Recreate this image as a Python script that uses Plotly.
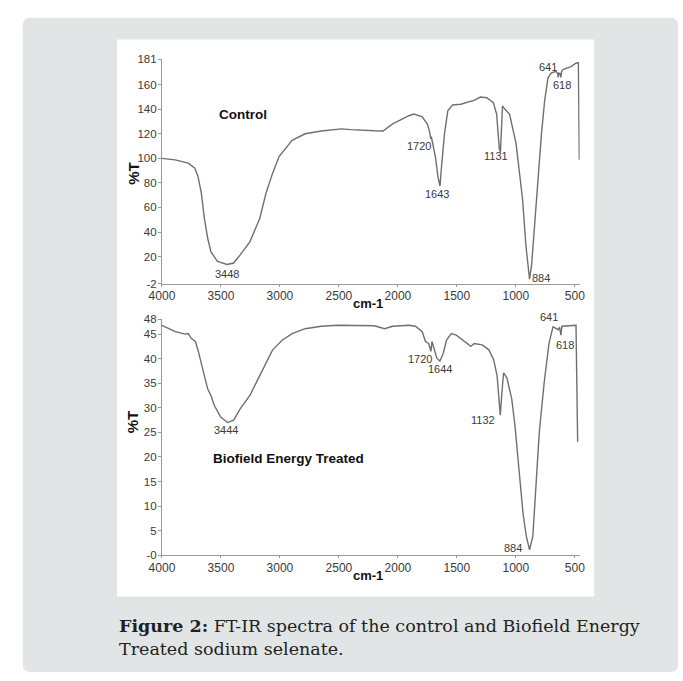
import plotly.graph_objects as go

W, H = 683, 681

# ---- data ----
control_wn = [4000, 3887, 3777, 3722, 3695, 3667, 3640, 3612, 3585, 3530, 3448, 3392, 3337,
              3255, 3172, 3117, 3062, 3007, 2897, 2786, 2649, 2479, 2400, 2300, 2200, 2126,
              2044, 1906, 1866, 1796, 1750, 1730, 1722, 1715, 1700, 1680, 1660, 1643, 1630,
              1605, 1577, 1536, 1467, 1412, 1350, 1301, 1246, 1191, 1163, 1150, 1140, 1131,
              1124, 1113, 1100, 1053, 998, 943, 915, 895, 884, 866, 838, 811, 783, 756, 728,
              701, 673, 660, 645, 641, 635, 625, 618, 612, 600, 532, 491, 470, 462]
control_t = [100, 98.8, 96.1, 92.1, 85.5, 72.1, 50.7, 34.7, 24, 16, 13.5, 14.7, 21.4,
             32, 50.7, 72, 88, 101.5, 114.8, 120.1, 122.3, 124.1, 123.5, 122.8, 122.5, 122.3,
             128.1, 134.8, 136.2, 134, 128, 121, 116.5, 117, 110, 100, 85, 77.5, 93.5,
             120, 138.8, 143.6, 144.2, 145.5, 147.5, 150, 149.5, 145.5, 136.2, 120, 108, 105,
             125, 142.8, 141, 136, 112, 66.7, 29.4, 8, 1.5, 13.4, 50.7, 88, 120, 146.8, 165.5,
             169.5, 170.3, 171, 169, 166, 169.5, 169, 166, 171, 172.5, 174.8, 177.6, 178, 99]

treated_wn = [4000, 3887, 3804, 3777, 3750, 3717, 3695, 3667, 3640, 3612, 3585, 3557, 3502,
              3444, 3392, 3337, 3255, 3172, 3117, 3062, 2979, 2896, 2787, 2649, 2512, 2374,
              2200, 2112, 2044, 1906, 1851, 1794, 1766, 1739, 1720, 1711, 1697, 1670, 1644,
              1615, 1588, 1546, 1505, 1450, 1409, 1381, 1353, 1285, 1229, 1188, 1159, 1145,
              1132, 1118, 1104, 1076, 1035, 1008, 980, 939, 911, 884, 856, 829, 801, 760, 719,
              685, 660, 641, 630, 618, 610, 530, 490, 476]
treated_t = [46.8, 45.5, 45.0, 45.1, 44.1, 43.5, 41.8, 39.1, 36.5, 33.8, 32.5, 30.5, 28.1,
             27.0, 27.5, 29.8, 32.5, 36.5, 39.1, 41.8, 43.8, 45.1, 46.1, 46.6, 46.8, 46.8,
             46.7, 46.1, 46.6, 46.8, 46.6, 45.5, 43.5, 43.1, 41.5, 43.5, 42.5, 40.1, 39.5,
             41.1, 43.8, 45.1, 44.8, 43.8, 43.1, 42.5, 43.1, 42.8, 41.8, 39.8, 36.5, 33.1,
             28.5, 33.1, 37.1, 36.1, 31.8, 26.5, 18.5, 8.5, 3.8, 1.1, 3.8, 15.1, 25.1, 35.1, 43.1,
             46.5, 46.1, 45.9, 46.4, 44.8, 46.6, 46.8, 46.8, 23.1]

x_ticks = [4000, 3500, 3000, 2500, 2000, 1500, 1000, 500]
top_y_ticks = [-2, 20, 40, 60, 80, 100, 120, 140, 160, 181]
top_y_text = ["-2", "20", "40", "60", "80", "100", "120", "140", "160", "181"]
bot_y_ticks = [0, 5, 10, 15, 20, 25, 30, 35, 40, 45, 48]
bot_y_text = ["-0", "5", "10", "15", "20", "25", "30", "35", "40", "45", "48"]

# peak labels: text, label centre (wavenumber, %T)
control_peaks = [("3448", 3447, 5.6), ("1720", 1821, 110.5), ("1643", 1672, 71.3),
                 ("1131", 1169, 101.7), ("884", 789, 2.4), ("641", 731, 174.6),
                 ("618", 607, 160.2)]
treated_peaks = [("3444", 3455, 25.4), ("1720", 1812, 40.0), ("1644", 1647, 37.8),
                 ("1132", 1276, 27.6), ("884", 1020, 1.4), ("641", 715, 47.6),
                 ("618", 582, 42.8)]


def px(x):
    return x / W


def py(y):
    return 1 - y / H


LINE = "#6f6f6f"
AX = "#9a9a9a"
TXT = "#3a3a3a"
SANS = "Liberation Sans, Arial, sans-serif"

fig = go.Figure()
fig.add_trace(go.Scatter(x=control_wn, y=control_t, mode="lines",
                         line=dict(color=LINE, width=1.4), xaxis="x", yaxis="y",
                         showlegend=False, hoverinfo="skip"))
fig.add_trace(go.Scatter(x=treated_wn, y=treated_t, mode="lines",
                         line=dict(color=LINE, width=1.4), xaxis="x2", yaxis="y2",
                         showlegend=False, hoverinfo="skip"))

common_x = dict(range=[4000, 459], tickvals=x_ticks, ticks="outside", ticklen=2,
                tickcolor=AX, showline=True, linecolor=AX, linewidth=1,
                ticklabelstandoff=-1,
                showgrid=False, zeroline=False, tickfont=dict(family=SANS, size=12, color=TXT))
common_y = dict(ticks="outside", ticklen=3, tickcolor=AX, showline=True, linecolor=AX,
                linewidth=1, showgrid=False, zeroline=False, ticklabelstandoff=-1,
                tickfont=dict(family=SANS, size=11.5, color=TXT))

fig.update_layout(
    width=W, height=H, autosize=False,
    margin=dict(l=0, r=0, t=0, b=0),
    paper_bgcolor="white", plot_bgcolor="rgba(0,0,0,0)",
    xaxis=dict(domain=[px(153), px(582)], anchor="y", **common_x),
    yaxis=dict(domain=[py(282.5), py(54)], anchor="x", range=[-2, 181],
               tickvals=top_y_ticks, ticktext=top_y_text, **common_y),
    xaxis2=dict(domain=[px(153), px(582)], anchor="y2", **common_x),
    yaxis2=dict(domain=[py(559), py(319)], anchor="x2", range=[0, 48],
                tickvals=bot_y_ticks, ticktext=bot_y_text, **common_y),
)

# background: grey rounded panel and white figure box
r = 8
x0, x1, y0, y1 = px(10), px(683), py(12), py(678)
rx, ry = r / W, r / H
path = (f"M {x0+rx},{y0} L {x1-rx},{y0} Q {x1},{y0} {x1},{y0-ry} "
        f"L {x1},{y1+ry} Q {x1},{y1} {x1-rx},{y1} L {x0+rx},{y1} Q {x0},{y1} {x0},{y1+ry} "
        f"L {x0},{y0-ry} Q {x0},{y0} {x0+rx},{y0} Z")
fig.add_shape(type="path", path=path, xref="paper", yref="paper",
              fillcolor="#e2e5e6", line=dict(width=0), layer="below")
fig.add_shape(type="rect", x0=px(107), x1=px(597), y0=py(601), y1=py(34),
              xref="paper", yref="paper", fillcolor="white", line=dict(width=0), layer="below")

anns = []
for txt, xv, yv in control_peaks:
    anns.append(dict(text=txt, x=xv, y=yv, xref="x", yref="y", showarrow=False,
                     xanchor="center", yanchor="middle",
                     font=dict(family=SANS, size=11, color=TXT)))
for txt, xv, yv in treated_peaks:
    anns.append(dict(text=txt, x=xv, y=yv, xref="x2", yref="y2", showarrow=False,
                     xanchor="center", yanchor="middle",
                     yshift=4 if txt == "641" else 0,
                     font=dict(family=SANS, size=11, color=TXT)))

bold = dict(family=SANS, color="#111111")
serif = dict(family="DejaVu Serif, serif", size=17.5, color="#231f20")
C = dict(xref="paper", yref="paper", showarrow=False, xanchor="center", yanchor="middle")
anns += [
    dict(text="<b>Control</b>", x=px(236), y=py(110), font=dict(size=13.5, **bold), **C),
    dict(text="<b>Biofield Energy Treated</b>", x=px(282.5), y=py(461),
         font=dict(size=13.5, **bold), **C),
    dict(text="<b>%T</b>", x=px(123), y=py(170), textangle=-90, font=dict(size=15, **bold), **C),
    dict(text="<b>%T</b>", x=px(123), y=py(423), textangle=-90, font=dict(size=15, **bold), **C),
    dict(text="<b>cm-1</b>", x=px(365), y=py(303), font=dict(size=13, **bold), **C),
    dict(text="<b>cm-1</b>", x=px(365), y=py(580), font=dict(size=13, **bold), **C),
    dict(text="<b>Figure 2:</b> FT-IR spectra of the control and Biofield Energy",
         x=px(107), y=py(631), xref="paper", yref="paper", xanchor="left", yanchor="middle",
         align="left", showarrow=False, font=serif),
    dict(text="Treated sodium selenate.",
         x=px(107), y=py(655), xref="paper", yref="paper", xanchor="left", yanchor="middle",
         align="left", showarrow=False, font=serif),
]
fig.update_layout(annotations=anns)

fig.write_html("out.html")
